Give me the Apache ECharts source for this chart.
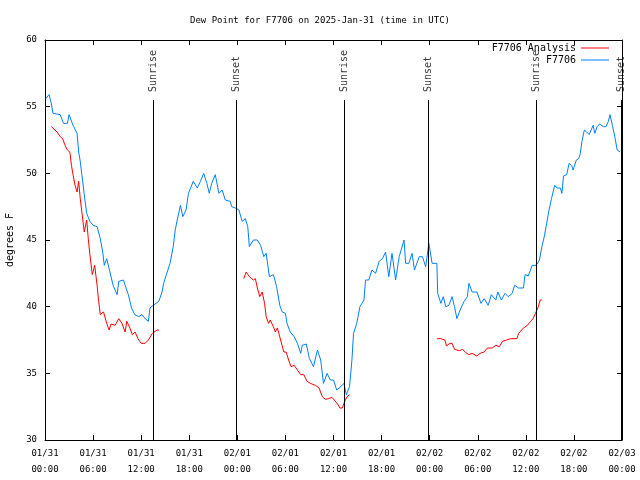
<!DOCTYPE html>
<html>
<head>
<meta charset="utf-8">
<script src="https://cdn.jsdelivr.net/npm/echarts@6/dist/echarts.min.js"></script>
<style>html,body{margin:0;padding:0;background:#fff}#c{width:640px;height:480px}</style>
</head>
<body>
<div id="c"></div>
<script>
// Hours since 2025-01-31 00:00 UTC
var tickLabels = ['01/31\n00:00','01/31\n06:00','01/31\n12:00','01/31\n18:00','02/01\n00:00','02/01\n06:00','02/01\n12:00','02/01\n18:00','02/02\n00:00','02/02\n06:00','02/02\n12:00','02/02\n18:00','02/03\n00:00'];

var obsHours = [0.1,0.5,0.8,1.0,1.9,2.3,2.8,3.0,3.5,4.0,4.2,4.4,4.6,4.9,5.2,5.6,6.0,6.5,6.9,7.2,7.4,7.7,8.1,8.5,9.0,9.2,9.8,10.0,10.4,10.8,11.2,11.7,12.1,12.5,12.9,13.1,13.5,14.2,14.6,14.8,15.2,15.6,16.0,16.25,16.5,16.9,17.2,17.6,17.9,18.5,19.0,19.4,19.8,20.2,20.5,20.8,21.25,21.7,22.1,22.5,23.1,23.3,23.75,24.2,24.6,25.0,25.3,25.5,26.0,26.5,26.9,27.3,27.6,28.0,28.5,28.9,29.3,29.6,30.0,30.2,30.6,31.1,31.5,31.9,32.1,32.6,33.0,33.5,34.0,34.4,34.75,35.2,35.6,36.0,36.4,36.9,37.3,37.6,38.0,38.3,38.5,38.9,39.3,39.8,40.0,40.4,40.8,41.25,41.7,42.1,42.5,42.9,43.3,43.75,44.2,44.8,45.0,45.4,45.8,46.1,46.7,47.1,47.5,47.9,48.3,48.9,49.0,49.4,49.7,50.0,50.4,50.8,51.1,51.4,51.8,52.3,52.7,52.9,53.3,53.9,54.4,54.8,55.3,55.7,56.25,56.5,56.95,57.4,57.8,58.3,58.6,59.1,59.7,59.9,60.3,60.8,61.3,61.7,62.0,62.3,62.6,62.9,63.2,63.6,63.9,64.3,64.5,64.7,65.1,65.4,65.7,65.9,66.3,66.6,66.8,67.0,67.3,67.6,67.9,68.4,68.6,68.9,69.2,69.7,70.0,70.3,70.5,70.8,71.1,71.4,71.75];
var obsValues = [55.6,55.9,55.2,54.5,54.4,53.75,53.75,54.4,53.6,53.0,51.6,50.9,49.9,48.4,47.0,46.4,46.1,46.0,45.1,44.1,43.1,43.6,42.6,41.6,40.9,41.9,42.0,41.6,40.9,39.9,39.4,39.25,39.4,39.1,38.9,39.9,40.1,40.4,41.1,41.75,42.5,43.25,44.5,45.75,46.5,47.6,46.75,47.25,48.5,49.4,48.9,49.4,50.0,49.25,48.5,49.25,49.9,48.5,48.75,48.0,47.9,47.5,47.4,47.25,46.4,46.6,46.0,44.5,45.0,45.0,44.6,43.75,44.0,42.25,42.4,41.5,40.1,39.6,39.5,38.75,38.1,37.75,37.25,36.5,37.1,37.2,36.1,35.5,36.75,36.0,34.25,35.0,34.5,34.5,33.75,34.0,34.25,33.4,34.0,36.0,38.0,38.75,40.0,40.5,42.0,42.0,42.75,42.5,43.4,43.6,44.1,42.25,44.0,42.0,43.75,45.0,43.25,43.25,44.0,42.75,43.75,43.75,43.0,44.75,43.25,43.25,41.0,40.25,40.75,40.0,40.1,40.75,40.0,39.1,39.75,40.4,40.75,41.75,41.1,41.1,40.25,40.6,40.1,40.9,40.5,41.1,40.5,41.0,40.75,41.0,41.6,41.4,41.4,42.4,42.3,43.1,43.1,43.5,44.5,45.25,46.25,47.25,48.1,49.1,48.9,48.9,48.5,49.8,49.9,50.75,50.6,50.25,51.0,51.1,51.5,52.4,53.25,53.1,52.9,53.6,53.0,53.5,53.7,53.5,53.5,53.9,54.4,53.6,52.75,51.75,51.6];

// null marks a gap between analysis segments
var anaHours = [0.8,1.0,1.5,1.9,2.2,2.5,2.8,3.1,3.3,3.5,3.75,4.0,4.2,4.4,4.6,4.9,5.2,5.4,5.6,5.9,6.2,6.5,6.7,6.9,7.3,7.7,8.0,8.25,8.75,9.2,9.6,10.0,10.2,10.6,10.9,11.25,11.6,12.0,12.5,12.9,13.4,14.0,14.2,
  19.0,
  24.8,25.1,25.5,26.0,26.25,26.5,26.8,27.1,27.4,27.6,27.9,28.1,28.5,28.75,29.0,29.4,29.8,30.1,30.4,30.7,31.1,31.5,31.9,32.3,32.7,33.1,33.75,34.2,34.6,35.0,35.4,35.8,36.1,36.5,36.8,37.1,37.4,37.7,38.0,
  43.0,
  48.9,49.4,49.9,50.1,50.5,50.8,51.1,51.7,52.1,52.5,52.9,53.3,53.9,54.3,54.8,55.2,55.8,56.25,56.7,57.1,57.6,58.1,58.9,59.1,59.7,60.2,60.6,60.9,61.2,61.5,61.8,62.0];
var anaValues = [53.5,53.6,53.1,52.75,52.6,52.1,51.75,51.6,50.6,49.9,49.1,48.6,49.4,48.1,47.1,45.6,46.5,45.1,43.9,42.4,43.1,41.6,40.4,39.4,39.6,38.75,38.25,38.7,38.6,39.1,38.75,38.1,38.9,38.4,37.9,38.1,37.6,37.25,37.25,37.5,38.0,38.25,38.25,
  null,
  42.1,42.6,42.25,42.0,42.1,41.4,40.75,41.1,40.25,39.25,38.75,39.0,38.5,38.1,38.4,37.5,36.6,36.6,36.0,35.5,35.6,35.25,34.9,34.9,34.4,34.25,34.1,33.9,33.25,33.05,33.1,33.2,33.0,32.7,32.4,32.4,32.9,33.25,33.4,
  null,
  37.6,37.6,37.5,37.05,37.25,37.25,36.8,36.7,36.8,36.55,36.4,36.5,36.3,36.5,36.6,36.9,36.9,37.1,37.0,37.4,37.5,37.6,37.6,38.0,38.4,38.6,38.9,39.1,39.5,39.9,40.5,40.5];

var eventHours = [13.5, 23.9, 37.4, 47.85, 61.3, 71.9];
var eventNames = ['Sunrise','Sunset','Sunrise','Sunset','Sunrise','Sunset'];

var FONT = 'DejaVu Sans Mono';
function zip(h, v) { return h.map(function (x, i) { return [x, v[i] === null ? '-' : v[i]]; }); }

var lineTop = 55.5, labelY = 56.1;
var markData = eventHours.map(function (t) { return [{ coord: [t, 30] }, { coord: [t, lineTop] }]; });
var labelData = eventHours.map(function (t, i) { return { value: [t, labelY], name: eventNames[i] }; });

var chart = echarts.init(document.getElementById('c'), null, { renderer: 'canvas' });
var axisBase = {
  type: 'value', axisLine: { show: true, onZero: false, lineStyle: { color: '#000', width: 1 } },
  axisTick: { show: true, inside: true, length: 5, lineStyle: { color: '#000' } },
  splitLine: { show: false }
};
chart.setOption({
  animation: false,
  backgroundColor: '#fff',
  title: { text: 'Dew Point for F7706 on 2025-Jan-31 (time in UTC)', left: 'center', top: 11,
    textStyle: { fontFamily: FONT, fontSize: 9, fontWeight: 'normal', color: '#000' } },
  grid: { left: 45, right: 18, top: 40, bottom: 40, containLabel: false, outerBoundsMode: 'none' },
  legend: { data: ['F7706 Analysis', 'F7706'], orient: 'vertical', right: 31, top: 43, padding: 0,
    align: 'right', itemWidth: 28, itemHeight: 1, itemGap: 2, icon: 'rect',
    textStyle: { fontFamily: FONT, fontSize: 10, color: '#000' } },
  xAxis: [
    Object.assign({}, axisBase, { min: 0, max: 72, interval: 6, position: 'bottom',
      axisLabel: { margin: 6, fontFamily: FONT, fontSize: 9, color: '#000', lineHeight: 16,
        formatter: function (v) { return tickLabels[Math.round(v / 6)] || ''; } } }),
    Object.assign({}, axisBase, { min: 0, max: 72, interval: 6, position: 'top', axisLabel: { show: false } })
  ],
  yAxis: [
    Object.assign({}, axisBase, { min: 30, max: 60, interval: 5, position: 'left',
      name: 'degrees F', nameLocation: 'middle', nameRotate: 90, nameGap: 30,
      nameTextStyle: { fontFamily: FONT, fontSize: 10, color: '#000' },
      axisLabel: { margin: 8, fontFamily: FONT, fontSize: 9, color: '#000' } }),
    Object.assign({}, axisBase, { min: 30, max: 60, interval: 5, position: 'right', axisLabel: { show: false } })
  ],
  series: [
    { name: 'F7706 Analysis', type: 'line', data: zip(anaHours, anaValues), showSymbol: false, symbol: 'none',
      connectNulls: false, lineStyle: { color: '#ff0000', width: 1 }, itemStyle: { color: '#ff0000' }, z: 3 },
    { name: 'F7706', type: 'line', data: zip(obsHours, obsValues), showSymbol: false, symbol: 'none',
      lineStyle: { color: '#0080ff', width: 1 }, itemStyle: { color: '#0080ff' }, z: 4 },
    { name: 'events', type: 'scatter', data: labelData, symbolSize: 0, silent: true, z: 5,
      label: { show: true, formatter: function (p) { return p.name; }, position: [0, 0], rotate: 90,
        align: 'left', verticalAlign: 'middle', fontFamily: FONT, fontSize: 10, color: '#000' },
      markLine: { silent: true, symbol: 'none', animation: false, label: { show: false },
        lineStyle: { color: '#000', width: 1, type: 'solid' }, data: markData } }
  ]
});
</script>
</body>
</html>
